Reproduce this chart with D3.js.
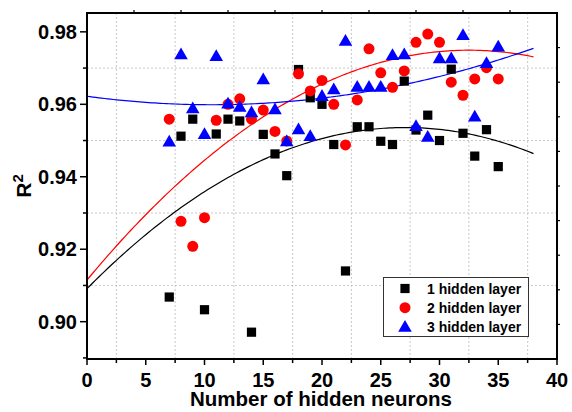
<!DOCTYPE html>
<html><head><meta charset="utf-8">
<script src="https://cdn.jsdelivr.net/npm/d3@7"></script>
<style>
html,body{margin:0;padding:0;background:#fff;}
svg text{font-family:"Liberation Sans",Arial,sans-serif;font-weight:bold;fill:#000;}
</style></head>
<body><svg id="c" width="572" height="412"></svg>
<script>
const neurons = [7,8,9,10,11,12,13,14,15,16,17,18,19,20,21,22,23,24,25,26,27,28,29,30,31,32,33,34,35];
const layer1 = [0.9068,0.9512,0.9559,0.9033,0.9518,0.9559,0.9554,0.8971,0.9517,0.9463,0.9403,0.9696,0.9618,0.9600,0.9489,0.9140,0.9538,0.9538,0.9498,0.9489,0.9664,0.9529,0.9570,0.9500,0.9697,0.9520,0.9457,0.9530,0.9428];
const layer2 = [0.9559,0.9277,0.9208,0.9287,0.9556,0.9600,0.9615,0.9559,0.9584,0.9525,0.9499,0.9684,0.9637,0.9666,0.9600,0.9488,0.9612,0.9753,0.9687,0.9647,0.9692,0.9771,0.9794,0.9771,0.9661,0.9625,0.9670,0.9701,0.9670];
const layer3 = [0.9497,0.9738,0.9589,0.9518,0.9733,0.9602,0.9593,0.9578,0.9669,0.9586,0.9498,0.9531,0.9512,0.9623,0.9641,0.9775,0.9648,0.9648,0.9648,0.9736,0.9738,0.9540,0.9510,0.9727,0.9727,0.9791,0.9566,0.9714,0.9759];
const seriesNames = ["1 hidden layer","2 hidden layer","3 hidden layer"];
const seriesColors = ["#000000","#ff0000","#0000ff"];
const xTicks = [0,5,10,15,20,25,30,35,40];
const yTicks = [0.90,0.92,0.94,0.96,0.98];
const xGrid = [2.5,7.5,12.5,17.5,22.5,27.5,32.5,37.5];
const yGrid = [0.91,0.93,0.95,0.97];
const fitRange = [0,38];
// fit coefficients (a + b·x + c·x²) for the 2-layer curve; null = least-squares fit of the data
const fit2Coeffs = [0.9115,0.0039057,-0.00006012];

const L=87,R=557,T=13,B=359;
const svg=d3.select("#c");
const x=d3.scaleLinear().domain([0,40]).range([L,R]);
const y=d3.scaleLinear().domain([0.8897,0.9852]).range([B,T]);

// grid
svg.append("g").selectAll("line").data(xGrid).join("line")
 .attr("x1",d=>x(d)).attr("x2",d=>x(d)).attr("y1",T).attr("y2",B)
 .attr("stroke","#c8c8c8").attr("stroke-width",1).attr("stroke-dasharray","2,2");
svg.append("g").selectAll("line").data(yGrid).join("line")
 .attr("y1",d=>y(d)).attr("y2",d=>y(d)).attr("x1",L).attr("x2",R)
 .attr("stroke","#c8c8c8").attr("stroke-width",1).attr("stroke-dasharray","2,2");

// quadratic least-squares fit
function quadFit(xs,ys){
  let S=[0,0,0,0,0],Sy=[0,0,0];
  xs.forEach((xv,i)=>{let p=1;for(let k=0;k<5;k++){S[k]+=p;if(k<3)Sy[k]+=p*ys[i];p*=xv;}});
  const A=[[S[0],S[1],S[2],Sy[0]],[S[1],S[2],S[3],Sy[1]],[S[2],S[3],S[4],Sy[2]]];
  for(let i=0;i<3;i++){for(let j=i+1;j<3;j++){const f=A[j][i]/A[i][i];for(let k=i;k<4;k++)A[j][k]-=f*A[i][k];}}
  const c=[0,0,0];
  for(let i=2;i>=0;i--){let s=A[i][3];for(let k=i+1;k<3;k++)s-=A[i][k]*c[k];c[i]=s/A[i][i];}
  return c;
}
const data=[layer1,layer2,layer3];
svg.append("clipPath").attr("id","pc").append("rect").attr("x",L).attr("y",T).attr("width",R-L).attr("height",B-T);
data.forEach((ys,si)=>{
  const c = (si===1) ? fit2Coeffs : quadFit(neurons,ys);
  const pts=d3.range(fitRange[0],fitRange[1]+0.001,0.25).map(v=>[v,c[0]+c[1]*v+c[2]*v*v]);
  svg.append("path").attr("clip-path","url(#pc)").datum(pts)
   .attr("d",d3.line().x(d=>x(d[0])).y(d=>y(d[1])))
   .attr("fill","none").attr("stroke",seriesColors[si]).attr("stroke-width",1.2);
});

const symbols=[d3.symbolSquare,d3.symbolCircle,d3.symbolTriangle];
const sizes=[85,95,80];
data.forEach((ys,si)=>{
  svg.append("g").selectAll("path").data(neurons.map((n,i)=>[n,ys[i]])).join("path")
   .attr("transform",d=>`translate(${x(d[0])},${y(d[1]) + (si===2?1:0)})`)
   .attr("d",d3.symbol().type(symbols[si]).size(sizes[si]))
   .attr("fill",seriesColors[si]);
});

// frame
svg.append("rect").attr("x",L).attr("y",T).attr("width",R-L).attr("height",B-T)
 .attr("fill","none").attr("stroke","#000").attr("stroke-width",2);

// bottom axis ticks
const ax=svg.append("g");
ax.selectAll("line.maj").data(xTicks).join("line").attr("class","maj")
 .attr("x1",d=>x(d)).attr("x2",d=>x(d)).attr("y1",B).attr("y2",B+6).attr("stroke","#000").attr("stroke-width",1.5);
ax.selectAll("line.min").data(xGrid).join("line").attr("class","min")
 .attr("x1",d=>x(d)).attr("x2",d=>x(d)).attr("y1",B).attr("y2",B+4).attr("stroke","#000").attr("stroke-width",1.5);
ax.selectAll("text").data(xTicks).join("text")
 .attr("x",d=>x(d)).attr("y",387).attr("text-anchor","middle").attr("font-size",20).text(d=>d);
// left axis
const ay=svg.append("g");
ay.selectAll("line.maj").data(yTicks).join("line").attr("class","maj")
 .attr("x1",L-7).attr("x2",L).attr("y1",d=>y(d)).attr("y2",d=>y(d)).attr("stroke","#000").attr("stroke-width",1.5);
ay.selectAll("line.min").data(yGrid.concat([0.89])).join("line").attr("class","min")
 .attr("x1",L-4).attr("x2",L).attr("y1",d=>y(d)).attr("y2",d=>y(d)).attr("stroke","#000").attr("stroke-width",1.5);
ay.selectAll("text").data(yTicks).join("text")
 .attr("x",L-10).attr("y",d=>y(d)+7).attr("text-anchor","end").attr("font-size",20).text(d=>d.toFixed(2));
// top & right small ticks
const div=d3.range(1,10);
svg.append("g").selectAll("line").data(div).join("line")
 .attr("x1",d=>L+(R-L)*d/10).attr("x2",d=>L+(R-L)*d/10).attr("y1",T).attr("y2",T-3).attr("stroke","#000").attr("stroke-width",1.2);
svg.append("g").selectAll("line").data(div).join("line")
 .attr("y1",d=>T+(B-T)*d/10).attr("y2",d=>T+(B-T)*d/10).attr("x1",R).attr("x2",R+3).attr("stroke","#000").attr("stroke-width",1.2);

// titles
svg.append("text").attr("x",(L+R)/2-1).attr("y",406).attr("text-anchor","middle").attr("font-size",20.5)
 .text("Number of hidden neurons");
const yt=svg.append("text").attr("transform","translate(31,186) rotate(-90)").attr("text-anchor","middle").attr("font-size",21);
yt.append("tspan").text("R");
yt.append("tspan").attr("dy",-8).attr("font-size",15).text("2");

// legend
const lg=svg.append("g");
lg.append("rect").attr("x",383.5).attr("y",277.5).attr("width",145).attr("height",59)
 .attr("fill","#fff").attr("stroke","#333").attr("stroke-width",1);
seriesNames.forEach((nm,i)=>{
  const cy=288.5+i*19.2;
  lg.append("path").attr("transform",`translate(405,${cy+(i===2?1:0)})`)
   .attr("d",d3.symbol().type(symbols[i]).size(sizes[i])).attr("fill",seriesColors[i]);
  lg.append("text").attr("x",427).attr("y",cy+5).attr("font-size",14).text(nm);
});
</script></body></html>
